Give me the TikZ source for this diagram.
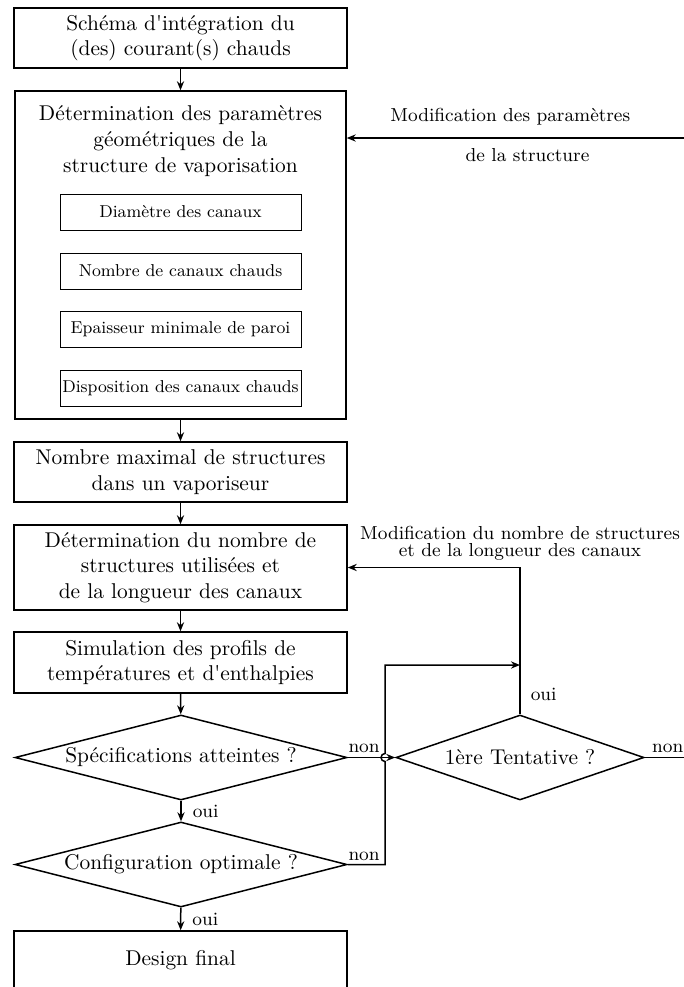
\documentclass[tikz,border=0pt]{standalone}
\usepackage{fontspec}
\usetikzlibrary{shapes.geometric,arrows.meta}
\newcommand\fMain{\fontsize{10.7}{12.8}\selectfont}
\newcommand\fSub{\fontsize{8.6}{10}\selectfont}
\newcommand\fLab{\fontsize{9.4}{8.5}\selectfont}
\newcommand\sq{\textquotesingle}
\tikzset{
  box/.style={draw, line width=0.75pt, rectangle, inner sep=0pt, minimum width=166.5pt, align=center, font=\fMain},
  subbox/.style={draw, line width=0.45pt, rectangle, inner sep=0pt, minimum width=120.5pt, minimum height=18pt, font=\fSub},
  dec/.style={draw, diamond, shape aspect=3.9, line width=0.75pt, inner sep=0pt, minimum width=166pt, minimum height=42.5pt, font=\fMain},
  lab/.style={font=\fLab, inner sep=0pt, align=center},
  ln/.style={line width=0.75pt},
  arr/.style={line width=0.75pt, -{Stealth[length=4.5pt,width=3.6pt]}},
}
\begin{document}
\begin{tikzpicture}[x=0.5pt, y=-0.5pt]
\useasboundingbox (0,0) rectangle (684,987);
% main column
\node[box, minimum height=30pt] (b1) at (180.5,38) {Schéma d\sq intégration du\\(des) courant(s) chauds};
\node[box, minimum width=165.5pt, minimum height=164pt] (b2) at (180.5,255) {};
\node[font=\fMain, align=center, inner sep=0pt] (t2) at (180.5,141) {Détermination des paramètres\\géométriques de la\\structure de vaporisation};
\node[subbox] (s1) at (180.5,212) {Diamètre des canaux};
\node[subbox] (s2) at (180.5,271) {Nombre de canaux chauds};
\node[subbox] (s3) at (180.5,329.5) {Epaisseur minimale de paroi};
\node[subbox] (s4) at (180.5,388) {Disposition des canaux chauds};
\node[box, minimum height=30pt] (b3) at (180.5,472) {Nombre maximal de structures\\dans un vaporiseur};
\node[box, minimum height=42.5pt] (b4) at (180.5,567.5) {Détermination du nombre de\\structures utilisées et\\de la longueur des canaux};
\node[box, minimum height=30.5pt] (b5) at (180.5,662.5) {Simulation des profils de\\températures et d\sq enthalpies};
\node[dec] (d1) at (181,757.5) {Spécifications atteintes ?};
\node[dec] (d2) at (181,864.5) {Configuration optimale ?};
\node[dec, minimum width=124pt] (d3) at (520,757.5) {1ère Tentative ?};
\node[box, minimum height=29pt] (b6) at (180.5,960) {Design final};
% free ends and bends
\coordinate (e1) at (684,138);
\coordinate (e3) at (684,757.5);
\coordinate (c1) at (385,864.5);
\coordinate (c2) at (385,761.5);
\coordinate (c3) at (385,665);
\coordinate (mg) at (520,665);
% connectors
\draw[arr] (b1) -- (b2);
\draw[arr] (b2) -- (b3);
\draw[arr] (b3) -- (b4);
\draw[arr] (b4) -- (b5);
\draw[arr] (b5) -- (d1);
\draw[arr] (d1) -- node[lab, anchor=west, xshift=5.5pt]{oui} (d2);
\draw[arr] (d2) -- node[lab, anchor=west, xshift=5.5pt]{oui} (b6);
\draw[arr] (d1.east) -- node[lab, pos=0, anchor=south west, yshift=2pt]{non} (d3.west);
\draw[arr] (d2.east) -- node[lab, pos=0, anchor=south west, yshift=1.5pt]{non} (c1) -- (c2)
   arc[start angle=270, end angle=90, radius=2pt] -- (c3) -- (mg);
\draw[arr] (d3.north) |- node[lab, pos=0.068, anchor=west, xshift=5pt]{oui}
   node[lab, pos=0.5, yshift=12pt]{Modification du nombre de structures\\et de la longueur des canaux} (b4.east);
\draw[ln] (d3.east) -- node[lab, pos=1, anchor=south east, yshift=2pt]{non} (e3);
\draw[arr] (e1) -- node[lab, pos=0.515, yshift=10.5pt]{Modification des paramètres}
   node[lab, pos=0.464, yshift=-8.5pt]{de la structure} (b2.east |- e1);
\end{tikzpicture}
\end{document}
